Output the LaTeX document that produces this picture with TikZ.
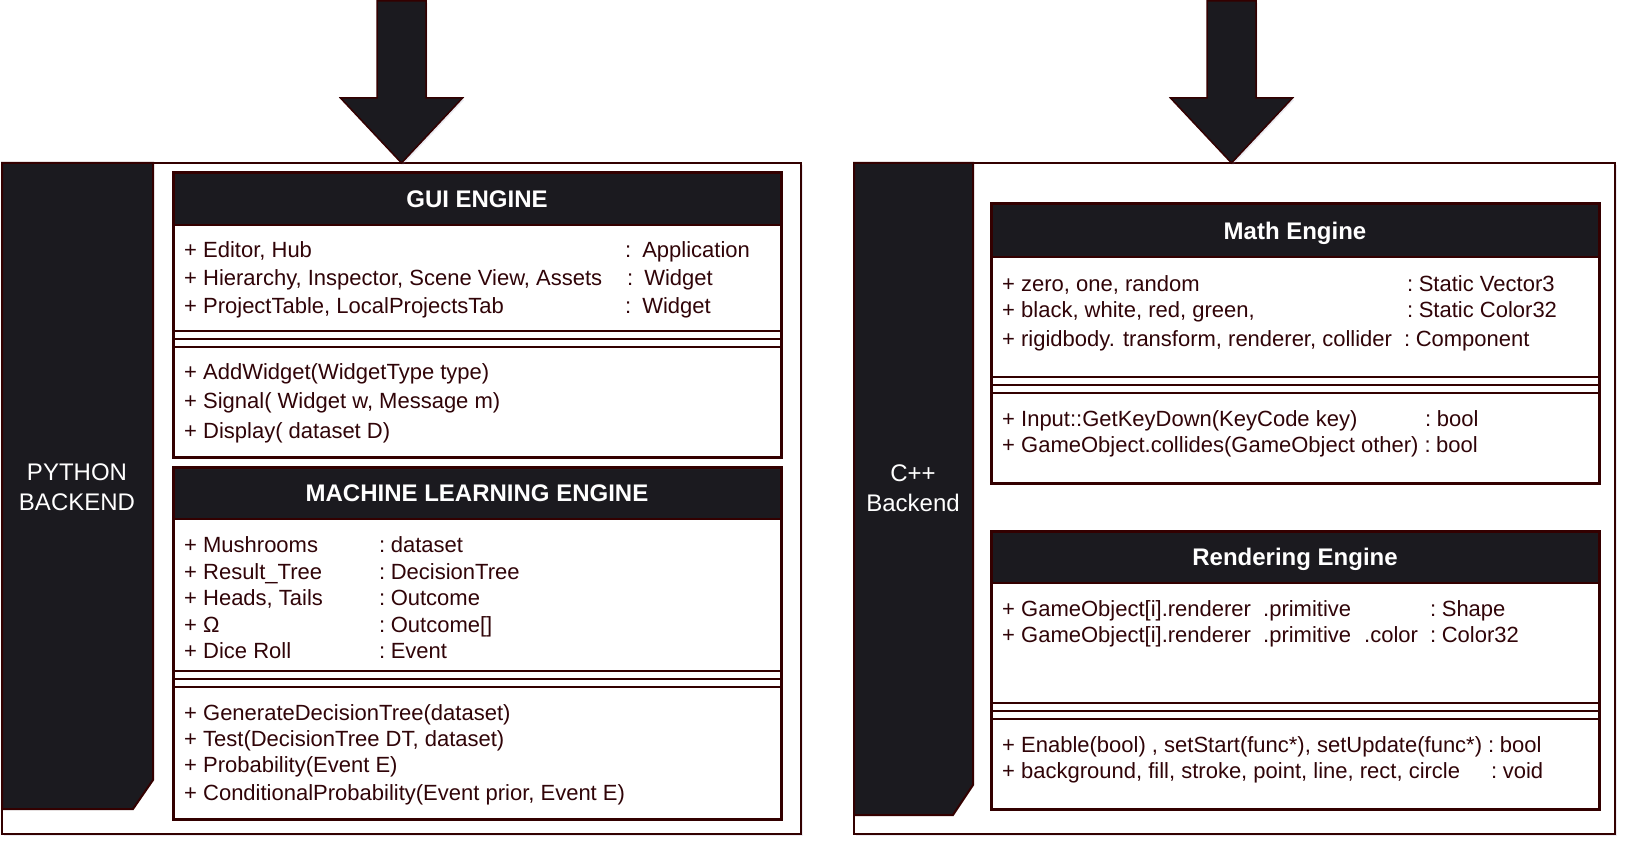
\documentclass[tikz,border=0pt]{standalone}
\usepackage{fontspec}
\setmainfont{Liberation Sans}
\usetikzlibrary{shadows}
\definecolor{dk}{HTML}{1B1A1F}
\definecolor{bd}{HTML}{330000}
\definecolor{tx}{HTML}{300408}
\definecolor{shd}{HTML}{9090B0}
\newcommand\mkrow[3]{\makebox[#1][l]{#2}#3}
\newcommand\cl{:\hspace{5.5pt}}
\newcommand\umlbox[7]{%
  \node[classbox, minimum width=#4pt, minimum height=#5pt] (#1) at (#2,#3) {};
  \fill[dk] (#1.north west) rectangle ([yshift=-#6pt]#1.north east);
  \draw[sepline] ([yshift=-#6pt]#1.north west) -- ([yshift=-#6pt]#1.north east);
  \foreach \s in {0,8,16}{\draw[sepline] ([yshift={-(#7+\s)*1pt}]#1.north west) -- ([yshift={-(#7+\s)*1pt}]#1.north east);}
  \draw[boxline] (#1.north west) rectangle (#1.south east);
}
\begin{document}
\begin{tikzpicture}[x=1pt,y=-1pt,
  softshadow/.style={drop shadow={shadow xshift=1.5pt, shadow yshift=-2pt, opacity=0.18, fill=shd}},
  frame/.style={draw=bd, line width=2.5pt, fill=white, inner sep=0pt, outer sep=0pt, softshadow},
  panel/.style={fill=dk, draw=bd, line width=2pt},
  classbox/.style={draw=bd, line width=3pt, fill=white, inner sep=0pt, outer sep=0pt, softshadow},
  boxline/.style={draw=bd, line width=3pt},
  sepline/.style={draw=bd, line width=2.6pt},
  bigarrow/.style={fill=dk, draw=bd, line width=1.5pt, line join=miter, softshadow},
  txt/.style={anchor=base west, inner sep=0pt, text=tx, font=\fontsize{22}{26}\selectfont},
  hdr/.style={inner sep=0pt, text=white, text height=17.2pt, text depth=0pt, font=\bfseries\fontsize{24}{28}\selectfont},
  side/.style={inner sep=0pt, text=white, align=center, font=\fontsize{24}{29.5}\selectfont}
]
\useasboundingbox (0,0) rectangle (1638,858);

% frames
\node[frame, minimum width=799pt, minimum height=671pt] (pyframe) at (401.5,498.5) {};
\node[frame, minimum width=761pt, minimum height=671pt] (cppframe) at (1234.5,498.5) {};

% arrows
\draw[bigarrow] (pyframe.north) -- ++(-61,-65) -- ++(36.5,0) -- ++(0,-97) -- ++(49,0) -- ++(0,97) -- ++(36.5,0) -- cycle;
\draw[bigarrow] ([xshift=-3pt]cppframe.north) -- ++(-61,-65) -- ++(36.5,0) -- ++(0,-97) -- ++(49,0) -- ++(0,97) -- ++(36.5,0) -- cycle;

% side panels
\draw[panel] (2,163) -- (153,163) -- (153,780) -- (133,809) -- (2,809) -- cycle;
\node[side] (pylabel) at (77,487) {PYTHON\\BACKEND};
\draw[panel] (854,163) -- (973,163) -- (973,785) -- (953,815) -- (854,815) -- cycle;
\node[side] (cpplabel) at (913,488) {C++\\Backend};

% GUI ENGINE
\umlbox{gui}{477}{315}{608}{284}{52}{158}
\node[hdr] (guititle) at (477,199) {GUI ENGINE};
\node[txt] (g1) at (184,258) {\mkrow{441pt}{+ Editor, Hub}{:\hspace{11pt}Application}};
\node[txt] (g2) at (184,286) {\mkrow{443pt}{+ Hierarchy, Inspector, Scene View, Assets}{:\hspace{11pt}Widget}};
\node[txt] (g3) at (184,314) {\mkrow{441pt}{+ ProjectTable, LocalProjectsTab}{:\hspace{11pt}Widget}};
\node[txt] (gm1) at (184,380) {+ AddWidget(WidgetType type)};
\node[txt] (gm2) at (184,408) {+ Signal( Widget w, Message m)};
\node[txt] (gm3) at (184,438) {+ Display( dataset D)};

% MACHINE LEARNING ENGINE
\umlbox{ml}{477}{643}{608}{352}{52}{204}
\node[hdr] (mltitle) at (477,493) {MACHINE LEARNING ENGINE};
\node[txt] (l1) at (184,552) {\mkrow{195pt}{+ Mushrooms}{\cl dataset}};
\node[txt] (l2) at (184,579) {\mkrow{195pt}{+ Result\_Tree}{\cl DecisionTree}};
\node[txt] (l3) at (184,605) {\mkrow{195pt}{+ Heads, Tails}{\cl Outcome}};
\node[txt] (l4) at (184,632) {\mkrow{195pt}{+ Ω}{\cl Outcome[]}};
\node[txt] (l5) at (184,658) {\mkrow{195pt}{+ Dice Roll}{\cl Event}};
\node[txt] (lm1) at (184,720) {+ GenerateDecisionTree(dataset)};
\node[txt] (lm2) at (184,746) {+ Test(DecisionTree DT, dataset)};
\node[txt] (lm3) at (184,772) {+ Probability(Event E)};
\node[txt] (lm4) at (184,800) {+ ConditionalProbability(Event prior, Event E)};

% Math Engine
\umlbox{math}{1295}{343.5}{608}{279}{53}{173}
\node[hdr] (mathtitle) at (1295,231) {Math Engine};
\node[txt] (m1) at (1002,292) {\mkrow{405pt}{+ zero, one, random}{\cl Static Vector3}};
\node[txt] (m2) at (1002,318) {\mkrow{405pt}{+ black, white, red, green,}{\cl Static Color32}};
\node[txt] (m3) at (1002,347) {\mkrow{402pt}{+ rigidbody. transform, renderer, collider}{\cl Component}};
\node[txt] (mm1) at (1002,426) {\mkrow{423pt}{+ Input::GetKeyDown(KeyCode key)}{\cl bool}};
\node[txt] (mm2) at (1002,452) {+ GameObject.collides(GameObject other) \cl bool};

% Rendering Engine
\umlbox{render}{1295}{670}{608}{278}{52}{172}
\node[hdr] (rendertitle) at (1295,557) {Rendering Engine};
\node[txt] (r1) at (1002,616) {\mkrow{261pt}{+ GameObject[i].renderer}{\mkrow{167pt}{.primitive}{\cl Shape}}};
\node[txt] (r2) at (1002,642) {\mkrow{261pt}{+ GameObject[i].renderer}{\mkrow{101pt}{.primitive}{\mkrow{66pt}{.color}{\cl Color32}}}};
\node[txt] (rm1) at (1002,752) {+ Enable(bool) , setStart(func*), setUpdate(func*) \cl bool};
\node[txt] (rm2) at (1002,778) {\mkrow{489pt}{+ background, fill, stroke, point, line, rect, circle}{\cl void}};
\end{tikzpicture}
\end{document}
